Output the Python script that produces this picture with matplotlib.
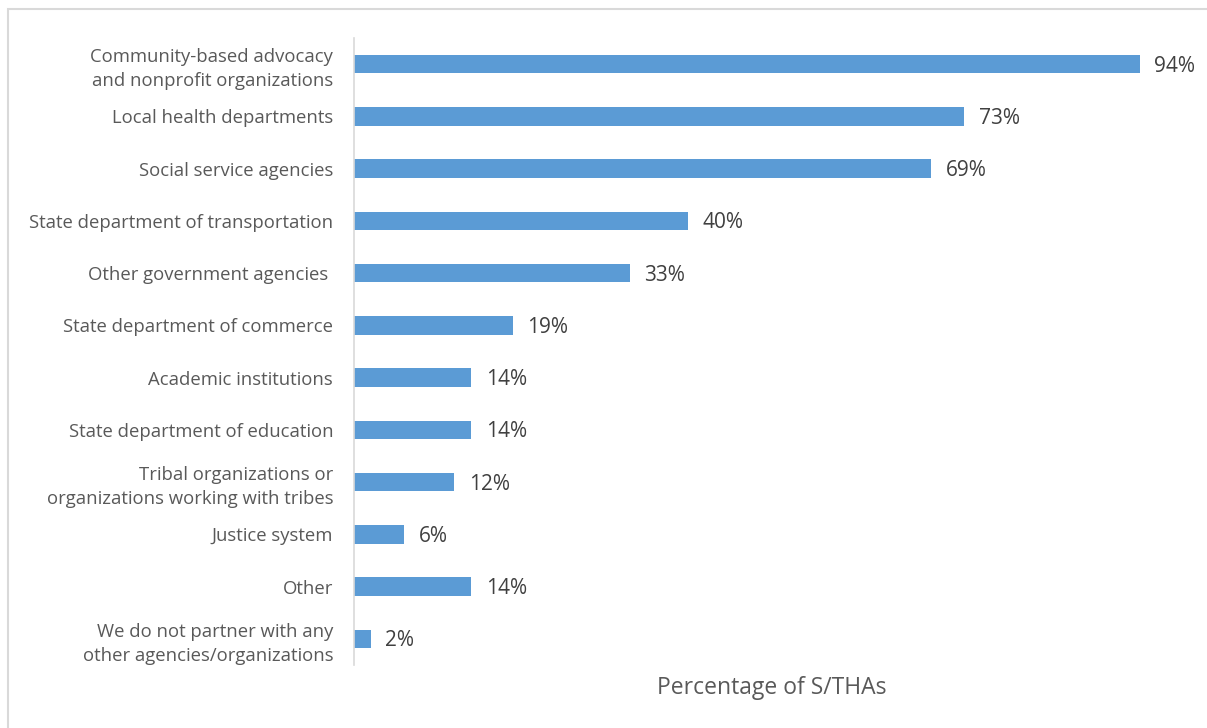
import matplotlib.pyplot as plt
from matplotlib.patches import Rectangle

plt.rcParams["font.family"] = ["Open Sans", "DejaVu Sans"]

# data
categories = [
    "Community-based advocacy\nand nonprofit organizations",
    "Local health departments",
    "Social service agencies",
    "State department of transportation",
    "Other government agencies ",
    "State department of commerce",
    "Academic institutions",
    "State department of education",
    "Tribal organizations or\norganizations working with tribes",
    "Justice system",
    "Other",
    "We do not partner with any\nother agencies/organizations",
]
values = [94, 73, 69, 40, 33, 19, 14, 14, 12, 6, 14, 2]
x_label = "Percentage of S/THAs"

bar_color = "#5B9BD5"
text_gray = "#595959"
value_gray = "#404040"

fig = plt.figure(figsize=(12.07, 7.28), dpi=100)
# light frame round the chart, as in the original
fig.patches.append(Rectangle((8 / 1207, -0.01), 1.02, (728 - 9) / 728 + 0.01,
                             transform=fig.transFigure, fill=False,
                             edgecolor="#D9D9D9", linewidth=1.5))

ax = fig.add_axes([354 / 1207, 63 / 728, 836 / 1207, 627 / 728])
y = list(range(len(categories)))
ax.barh(y, values, height=0.35, color=bar_color)

for yi, v in zip(y, values):
    ax.annotate(f"{v}%", (v, yi), xytext=(10.5, -1.5), textcoords="offset points",
                va="center", ha="left", fontsize=15, color=value_gray)

ax.set_yticks(y)
ax.set_yticklabels(categories, fontsize=13.3, color=text_gray, linespacing=1.45)
ax.set_ylim(len(categories) - 0.5, -0.5)
ax.set_xlim(0, 100)
ax.tick_params(axis="y", length=0, pad=15)
ax.set_xticks([])

for side in ["top", "right", "bottom"]:
    ax.spines[side].set_visible(False)
ax.spines["left"].set_color("#D9D9D9")
ax.spines["left"].set_linewidth(1.2)

ax.set_xlabel(x_label, fontsize=16.5, color=text_gray, labelpad=8)

fig.savefig("out.png", dpi=100)
